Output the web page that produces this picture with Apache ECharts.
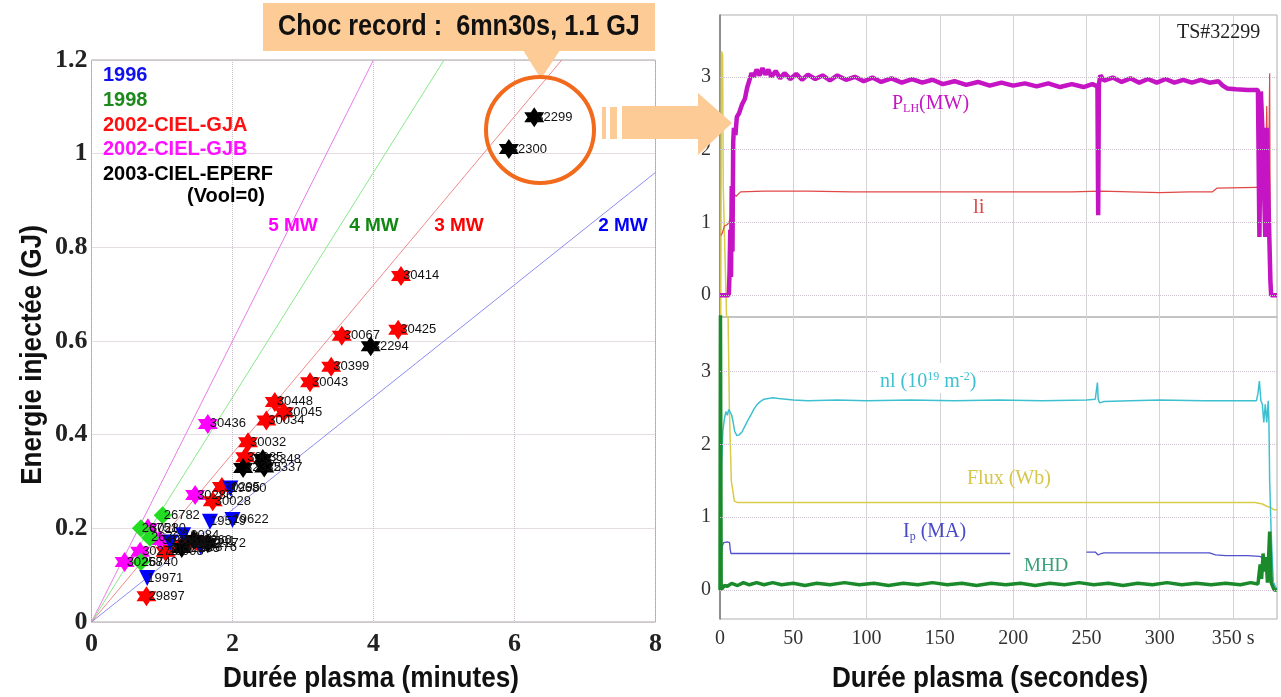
<!DOCTYPE html>
<html><head><meta charset="utf-8">
<script src="https://cdn.jsdelivr.net/npm/echarts@6/dist/echarts.min.js"></script>
<style>html,body{margin:0;padding:0;background:#fff}#c{width:1281px;height:697px}</style>
</head><body><div id="c"></div>
<script>
// ---------------- DATA (left: energy vs duration) ----------------
// [duration (minutes), injected energy (GJ), shot number]
const shots1996 = [[0.79,0.094,'19971'],[1.68,0.214,'19579'],[2.0,0.218,'19622'],[1.97,0.285,'19680'],[1.3,0.185,'19084'],[1.55,0.16,'19876'],[1.12,0.17,'19012']];
const shots1998 = [[1.01,0.228,'26782'],[0.70,0.200,'26751'],[0.83,0.180,'26766'],[0.70,0.128,'26740']];
const shotsGJA = [[4.39,0.739,'30414'],[4.35,0.624,'30425'],[3.55,0.611,'30067'],[3.40,0.545,'30399'],[3.10,0.512,'30043'],[2.60,0.470,'30448'],[2.73,0.448,'30045'],[2.48,0.430,'30034'],[2.22,0.384,'30032'],[2.18,0.352,'30035'],[1.85,0.288,'30295'],[1.72,0.258,'30028'],[0.78,0.055,'29897'],[1.30,0.165,'30013'],[1.05,0.150,'29998'],[1.50,0.172,'30001']];
const shotsGJB = [[1.65,0.423,'30436'],[1.47,0.271,'30286'],[0.97,0.175,'30266'],[0.69,0.150,'30276'],[0.47,0.128,'30258'],[0.80,0.200,'30280']];
const shotsEPERF = [[6.28,1.078,'32299'],[5.92,1.010,'32300'],[3.96,0.589,'32294'],[2.15,0.329,'32325'],[2.43,0.348,'32348'],[2.45,0.330,'32337'],[1.45,0.175,'32260'],[1.65,0.168,'32272'],[1.28,0.158,'32255']];
const campaignNames = ['1996','1998','2002-CIEL-GJA','2002-CIEL-GJB','2003-CIEL-EPERF'];
const powerNames = ['5 MW','4 MW','3 MW','2 MW'];
const powerLineEnds = [[4,1.2],[5,1.2],[6.67,1.2],[8,0.96]];
const xTicksMin = [0,2,4,6,8];
const yTicksGJ = [0,0.2,0.4,0.6,0.8,1,1.2];

// ---------------- DATA (right: shot TS#32299 traces, time in s) ----------------
const tPLH = [[0,0],[6,0],[6.5,0.3],[7,0.9],[7.5,0.25],[8,1.5],[8.5,0.6],[9,2.1],[9.5,2.3],[10.5,2.2],[11.5,2.45],[13,2.5],[15,2.62],[17,2.7],[18.5,2.85],[20,2.95],[21.5,3.05],[23,3.0],[25,3.1],[27,3.02],[29,3.12],[31,3.03],[33,3.1],[35,3.0],[38,3.08],[41,2.98],[44,3.05],[48,2.97],[52,3.04],[56,2.96],[60,3.03],[65,2.97],[70,3.02],[75,2.95],[80,3.02],[86,2.96],[92,3.0],[98,2.94],[104,2.99],[110,2.93],[117,2.98],[124,2.92],[131,2.97],[138,2.92],[145,2.96],[152,2.9],[160,2.94],[168,2.89],[176,2.93],[184,2.88],[192,2.92],[200,2.88],[208,2.91],[216,2.87],[224,2.91],[232,2.86],[240,2.9],[248,2.86],[254,2.9],[257.5,2.87],[258,1.1],[258.5,2.9],[259.5,3.02],[262,2.95],[268,2.99],[274,2.93],[280,2.98],[286,2.92],[292,2.97],[298,2.92],[304,2.97],[310,2.92],[316,2.96],[322,2.92],[328,2.96],[334,2.92],[340,2.94],[343,2.88],[346,2.84],[352,2.83],[360,2.82],[367,2.82],[368,0.8],[369,2.8],[370,2.3],[371,1.6],[372,0.8],[373,2.3],[374.5,1.0],[375.5,0.2],[376,0],[380,0]];
const tLi = [[0.5,0.82],[1.5,0.85],[3,0.95],[5,0.97],[6,1.0],[8,1.1],[9,1.4],[10,1.42],[11,1.36],[12,1.38],[14,1.42],[30,1.43],[60,1.43],[90,1.42],[120,1.42],[150,1.42],[180,1.42],[210,1.42],[240,1.42],[260,1.43],[280,1.42],[300,1.41],[320,1.42],[336,1.42],[339,1.47],[366,1.48],[368,1.5],[369,1.3],[371,1.32],[372,1.5],[373,2.6],[374,1.2],[375,3.05],[375.5,0],[380,0]];
const tFluxTop = [[0.5,-0.3],[1,3.35],[1.8,3.3],[2.2,1.5],[4.5,-0.3]];
const tNl = [[0,0],[0.5,0.3],[1,1.7],[2,2.2],[3,2.35],[4,2.45],[5,2.4],[6,2.48],[7,2.46],[8,2.4],[9,2.3],[10,2.18],[11.5,2.12],[13,2.13],[15,2.17],[17,2.25],[19,2.33],[21,2.4],[23,2.48],[25,2.54],[27,2.58],[30,2.62],[33,2.63],[36,2.64],[40,2.63],[45,2.62],[50,2.61],[60,2.6],[80,2.61],[100,2.6],[130,2.61],[160,2.6],[190,2.61],[220,2.6],[250,2.61],[256,2.62],[257,2.6],[257.5,2.85],[258,2.62],[259,2.57],[262,2.59],[280,2.6],[300,2.61],[330,2.6],[360,2.6],[366,2.6],[367,2.7],[368,2.87],[369,2.6],[370,2.55],[371,2.3],[372,2.55],[373,2.3],[374,2.6],[374.5,2.3],[375,1.5],[376,0.8],[377.5,0.1],[380,0]];
const tFlux = [[0,0],[0.5,4.5],[5,4.5],[6.4,2.5],[7.7,1.5],[9.8,1.22],[12,1.2],[50,1.2],[100,1.2],[150,1.2],[200,1.2],[250,1.2],[300,1.2],[350,1.2],[365,1.2],[370,1.18],[373,1.15],[376,1.13],[378,1.1],[380,1.1]];
const tIp = [[0,0],[1,0.5],[1.5,0.6],[2.5,0.65],[5,0.66],[6.5,0.65],[7,0.55],[7.5,0.5],[8,0.5],[50,0.5],[100,0.5],[150,0.5],[198,0.5],[224,null],[250,0.52],[256,0.52],[258,0.48],[259,0.46],[260,0.5],[262,0.51],[300,0.51],[334,0.51],[338,0.48],[345,0.47],[360,0.47],[368,0.46],[371,0.44],[373,0.4],[375,0.3],[377,0.13],[379,0.03],[380,0.02]];
const tMHD = [[0,0],[0.3,3.9],[0.8,0],[1.5,0.02],[3,0.06],[5,0.05],[8,0.09],[12,0.06],[16,0.1],[20,0.07],[25,0.1],[30,0.07],[36,0.1],[42,0.07],[50,0.09],[58,0.06],[66,0.09],[75,0.07],[85,0.1],[95,0.07],[105,0.09],[115,0.06],[125,0.09],[135,0.07],[145,0.1],[155,0.07],[165,0.09],[175,0.06],[185,0.09],[195,0.07],[205,0.09],[215,0.06],[225,0.09],[235,0.07],[245,0.1],[255,0.07],[265,0.09],[275,0.06],[285,0.09],[295,0.07],[305,0.1],[315,0.07],[325,0.09],[335,0.07],[345,0.09],[355,0.07],[362,0.1],[367,0.08],[368.5,0.35],[369.5,0.15],[370.5,0.5],[371.5,0.25],[372.5,0.45],[373.5,0.1],[375,0.8],[376,0.1],[378,0],[380,0]];
const gridValuesRight = [0,1,2,3];

// ---------------- STYLE ----------------
const campaignColors = ['#0000ff','#22dd22','#ff0000','#ff00ff','#000000'];
const legendColors = ['#1010ee','#1a8a1a','#ff1010','#ff10ff','#000000'];
const powerColors = ['#e87ce8','#88e888','#f08a8a','#8c8cf0'];
const powerLabelColors = ['#ff00ff','#118811','#ff0000','#0000ff'];
const hexagram = 'path://M0,-10L8.66,5L-8.66,5Z M0,10L-8.66,-5L8.66,-5Z';
const campaignSymbols = [['triangle',16,180],['diamond',18,0],[hexagram,20,0],[hexagram,20,0],[hexagram,20,0]];
const SERIF = '"Liberation Serif","Times New Roman",serif';
const SANS = '"Liberation Sans",Arial,sans-serif';
const NARROW_SCALE = 0.87;

const chart = echarts.init(document.getElementById('c'), null, {renderer:'canvas'});

const campaignData = [shots1996, shots1998, shotsGJA, shotsGJB, shotsEPERF];
const order = [2,3,1,0,4];
const series = [];

powerNames.forEach((n,i)=>{
  series.push({type:'line', name:n, xAxisIndex:0, yAxisIndex:0, symbol:'none', silent:true,
    data:[[0,0], powerLineEnds[i]], lineStyle:{color:powerColors[i], width:1}, z:1});
});
order.forEach(ci=>{
  const s = campaignSymbols[ci];
  series.push({type:'scatter', name:campaignNames[ci], xAxisIndex:0, yAxisIndex:0,
    symbol:s[0], symbolSize:s[1], symbolRotate:s[2],
    itemStyle:{color:campaignColors[ci], opacity:1},
    data: campaignData[ci].map(d=>({value:[d[0],d[1]], name:d[2]})),
    label:{show:true, position:'right', distance:-8, formatter:p=>p.name, fontSize:13, color:'#111', fontFamily:SANS},
    z:3});
});

const hGrid = {silent:true, symbol:'none', label:{show:false},
  lineStyle:{color:'#cfc3cf', type:'dotted', width:1},
  data: gridValuesRight.map(v=>({yAxis:v}))};

// top panel
series.push({type:'line', xAxisIndex:1, yAxisIndex:1, symbol:'none', data:tFluxTop, lineStyle:{color:'#d8cc48', width:1.5}, markLine:hGrid, z:2});
series.push({type:'line', xAxisIndex:1, yAxisIndex:1, symbol:'none', data:tLi, lineStyle:{color:'#e04848', width:1.2}, z:3});
series.push({type:'line', xAxisIndex:1, yAxisIndex:1, symbol:'none', data:tPLH, lineStyle:{color:'#c414c4', width:4.5}, z:4});
// bottom panel
series.push({type:'line', xAxisIndex:2, yAxisIndex:2, symbol:'none', data:tFlux, lineStyle:{color:'#d8cc48', width:1.5}, markLine:hGrid, z:2});
series.push({type:'line', xAxisIndex:2, yAxisIndex:2, symbol:'none', data:tIp, lineStyle:{color:'#5050cc', width:1.3}, z:3});
series.push({type:'line', xAxisIndex:2, yAxisIndex:2, symbol:'none', data:tNl, lineStyle:{color:'#3ec0d0', width:1.5}, z:3});
series.push({type:'line', xAxisIndex:2, yAxisIndex:2, symbol:'none', data:tMHD, lineStyle:{color:'#1a8a2a', width:3.5}, z:4});

const rightX = (idx, showLabels) => ({type:'value', gridIndex:idx, min:0, max:380, interval:50,
  axisLine:{show:false}, axisTick:{show:false},
  splitLine:{show:true, lineStyle:{color:'#d4d4d4', width:1}},
  axisLabel:{show:showLabels, margin:10, fontFamily:SERIF, fontSize:20, color:'#333',
    formatter:v=> v===350 ? '350 s' : (v>350 ? '' : String(v))}});
const rightY = (idx, min, max) => ({type:'value', gridIndex:idx, min:min, max:max,
  axisLine:{show:true, lineStyle:{color:'#777', width:1.5}}, axisTick:{show:false}, splitLine:{show:false},
  axisLabel:{margin:9, fontFamily:SERIF, fontSize:20, color:'#333', showMinLabel:false, showMaxLabel:false,
    formatter:v=> Number.isInteger(v) ? String(v) : ''}});

const txt = (x,y,text,font,fill,extra) => Object.assign({type:'text', x:x, y:y, z:50,
  style:{text:text, font:font, fill:fill, align:'left', verticalAlign:'middle'}}, extra||{});

const graphics = [];
// legend of campaigns
const legendY = [75,100,125,149,174];
campaignNames.forEach((n,i)=> graphics.push(txt(103, legendY[i], n, 'bold 20px '+SANS, legendColors[i])));
graphics.push(txt(187, 196, '(Vool=0)', 'bold 20px '+SANS, '#000'));
// power labels
const powerLabelX = [293,374,459,623];
powerNames.forEach((n,i)=>{ const g = txt(powerLabelX[i], 226, n, 'bold 19px '+SANS, powerLabelColors[i]); g.style.align='center'; graphics.push(g); });
// axis titles (condensed bold)
const tX1 = txt(371, 679, 'Durée plasma (minutes)', 'bold 30px '+SANS, '#111', {scaleX:NARROW_SCALE}); tX1.style.align='center'; graphics.push(tX1);
const tX2 = txt(990, 679, 'Durée plasma (secondes)', 'bold 30px '+SANS, '#111', {scaleX:NARROW_SCALE}); tX2.style.align='center'; graphics.push(tX2);
const tY1 = txt(33, 355, 'Energie injectée (GJ)', 'bold 30px '+SANS, '#111', {rotation:Math.PI/2, scaleX:NARROW_SCALE}); tY1.style.align='center'; graphics.push(tY1);
// record callout
const peach = '#fccb96';
graphics.push({type:'rect', z:40, shape:{x:263,y:3,width:392,height:48}, style:{fill:peach}});
graphics.push({type:'polygon', z:40, shape:{points:[[523,50],[560,50],[541,79]]}, style:{fill:peach}});
const tRec = txt(459, 27, 'Choc record :  6mn30s, 1.1 GJ', 'bold 29px '+SANS, '#111', {scaleX:NARROW_SCALE}); tRec.style.align='center'; graphics.push(tRec);
graphics.push({type:'ellipse', z:45, shape:{cx:540,cy:130,rx:54,ry:53}, style:{fill:null, stroke:'#f26a1b', lineWidth:4}});
// arrow
graphics.push({type:'rect', z:45, shape:{x:602,y:107,width:4,height:32}, style:{fill:peach}});
graphics.push({type:'rect', z:45, shape:{x:610,y:107,width:7,height:32}, style:{fill:peach}});
graphics.push({type:'rect', z:45, shape:{x:622,y:106,width:77,height:33}, style:{fill:peach}});
graphics.push({type:'polygon', z:45, shape:{points:[[698,93],[732,123],[698,155]]}, style:{fill:peach}});
// right chart labels
graphics.push(txt(1177, 33, 'TS#32299', '20px '+SERIF, '#222'));
graphics.push({type:'text', x:892, y:104, z:50, style:{text:'{a|P}{b|LH}{a|(MW)}', verticalAlign:'middle',
  rich:{a:{fill:'#c414c4', fontFamily:SERIF, fontSize:20, lineHeight:22}, b:{fill:'#c414c4', fontFamily:SERIF, fontSize:12, lineHeight:12, verticalAlign:'bottom'}}}});
graphics.push(txt(973, 207, 'li', '21px '+SERIF, '#e04848'));
graphics.push({type:'text', x:877, y:378, z:50, style:{text:'{a|nl (10}{b|19}{a| m}{b|-2}{a|)}', verticalAlign:'middle',
  backgroundColor:'#fff', padding:[8,3,0,3],
  rich:{a:{fill:'#3ec0d0', fontFamily:SERIF, fontSize:20, lineHeight:22}, b:{fill:'#3ec0d0', fontFamily:SERIF, fontSize:12, lineHeight:12, verticalAlign:'top'}}}});
graphics.push(txt(967, 479, 'Flux (Wb)', '20px '+SERIF, '#d6c64a'));
graphics.push({type:'text', x:903, y:532, z:50, style:{text:'{a|I}{b|p}{a| (MA)}', verticalAlign:'middle',
  rich:{a:{fill:'#4848c8', fontFamily:SERIF, fontSize:20, lineHeight:22}, b:{fill:'#4848c8', fontFamily:SERIF, fontSize:12, lineHeight:12, verticalAlign:'bottom'}}}});
graphics.push(txt(1024, 566, 'MHD', '19px '+SERIF, '#3aa07a'));

chart.setOption({
  animation:false,
  backgroundColor:'#fff',
  grid:[
    {left:91.5, top:60, width:564, height:562, show:true, borderColor:'#a8a8a8', borderWidth:1, containLabel:false},
    {left:720, top:15, width:557, height:302, show:true, borderColor:'#b0b0b0', borderWidth:1},
    {left:720, top:317, width:557, height:302, show:true, borderColor:'#b0b0b0', borderWidth:1}
  ],
  xAxis:[
    {type:'value', gridIndex:0, min:xTicksMin[0], max:xTicksMin[xTicksMin.length-1], interval:2,
      axisLine:{show:false}, axisTick:{show:false},
      splitLine:{show:true, lineStyle:{color:'#c8bcc8', type:'dotted', width:1}},
      axisLabel:{margin:9, fontFamily:SERIF, fontWeight:'bold', fontSize:26, color:'#222'}},
    rightX(1,false), rightX(2,true)
  ],
  yAxis:[
    {type:'value', gridIndex:0, min:yTicksGJ[0], max:yTicksGJ[yTicksGJ.length-1], interval:0.2,
      axisLine:{show:false}, axisTick:{show:false},
      splitLine:{show:true, lineStyle:{color:'#c8bcc8', type:'dotted', width:1}},
      axisLabel:{margin:4, fontFamily:SERIF, fontWeight:'bold', fontSize:26, color:'#222'}},
    rightY(1,-0.3,3.85), rightY(2,-0.4,3.75)
  ],
  series: series,
  graphic: graphics
});
</script></body></html>
